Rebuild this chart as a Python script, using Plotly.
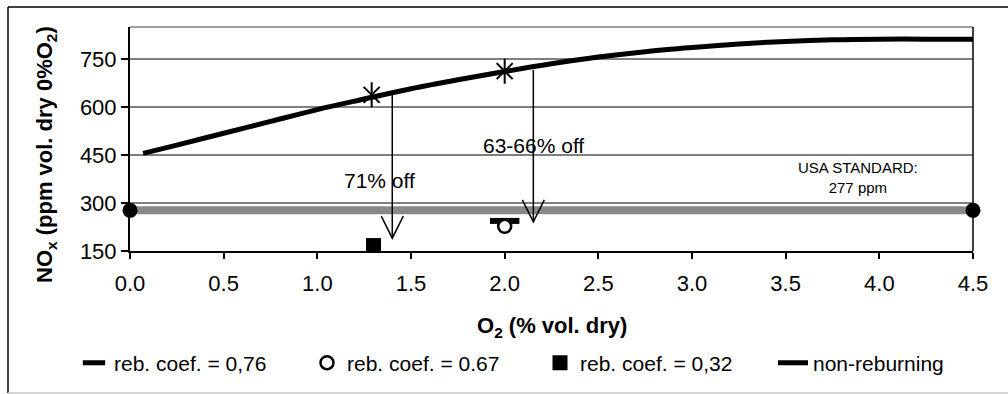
import plotly.graph_objects as go

# ---- data ----
curve_o2 = [0.07, 0.25, 0.5, 0.75, 1.0, 1.25, 1.5, 1.75, 2.0, 2.25, 2.5, 2.75,
            3.0, 3.25, 3.5, 3.75, 4.0, 4.25, 4.5]
curve_nox = [455, 481, 518, 555, 592, 625, 657, 685, 711, 735, 756, 773,
             786, 797, 805, 810, 812, 812, 812]

star_o2 = [1.29, 2.0]
star_nox = [638, 712]

coef076_o2 = [2.0]
coef076_nox = [244]
coef067_o2 = [2.0]
coef067_nox = [227]
coef032_o2 = [1.3]
coef032_nox = [167]

standard_o2 = [0.0, 4.5]
standard_nox = [277, 277]

arrow_o2 = [1.40, 2.153]
arrow_from = [640, 716]
arrow_to = [190, 241]
arrow_labels = ["71% off", "63-66% off"]
label_o2 = [1.332, 2.153]
label_nox = [371, 479]

x_ticks = [0.0, 0.5, 1.0, 1.5, 2.0, 2.5, 3.0, 3.5, 4.0, 4.5]
y_ticks = [150, 300, 450, 600, 750]

# ---- layout geometry ----
W, H = 1008, 394
L, R, T, B = 130, 35, 27, 143
pw, ph = W - L - R, H - T - B
xr = [0, 4.5]
yr = [150, 850]
xu = (xr[1] - xr[0]) / pw   # x units per px
yu = (yr[1] - yr[0]) / ph   # y units per px

def px_x(p):
    return (p - L) / pw

def px_y(p):
    return (H - B - p) / ph

FONT = "Liberation Sans, Arial, sans-serif"

fig = go.Figure()

# USA standard band
fig.add_trace(go.Scatter(
    x=standard_o2, y=standard_nox, mode="lines+markers",
    line=dict(color="#888888", width=8),
    marker=dict(color="black", size=15),
    showlegend=False, cliponaxis=False, hoverinfo="skip"))

# reburning points
fig.add_trace(go.Scatter(
    x=coef076_o2, y=coef076_nox, mode="markers", name="reb. coef. = 0,76",
    marker=dict(symbol="line-ew-open", size=21, color="black",
                line=dict(color="black", width=6))))
fig.add_trace(go.Scatter(
    x=coef067_o2, y=coef067_nox, mode="markers", name="reb. coef. = 0.67",
    marker=dict(symbol="circle", size=13, color="white",
                line=dict(color="black", width=2.5))))
fig.add_trace(go.Scatter(
    x=coef032_o2, y=coef032_nox, mode="markers", name="reb. coef. = 0,32",
    marker=dict(symbol="square", size=15, color="black",
                line=dict(color="black", width=0))))

# non-reburning curve
fig.add_trace(go.Scatter(
    x=curve_o2, y=curve_nox, mode="lines", name="non-reburning",
    line=dict(color="black", width=5, shape="spline")))

# asterisks (X + vertical stroke)
fig.add_trace(go.Scatter(
    x=star_o2, y=star_nox, mode="markers", showlegend=False,
    marker=dict(symbol="x-thin-open", size=16, color="black",
                line=dict(color="black", width=2))))
fig.add_trace(go.Scatter(
    x=star_o2, y=star_nox, mode="markers", showlegend=False,
    marker=dict(symbol="line-ns-open", size=18, color="black",
                line=dict(color="black", width=2))))

shapes = []
# arrows with open V heads
hw = 11 * xu
hl = 22 * yu
for ax, y0, y1 in zip(arrow_o2, arrow_from, arrow_to):
    shapes.append(dict(type="line", xref="x", yref="y", x0=ax, x1=ax, y0=y0, y1=y1,
                       line=dict(color="black", width=1.5)))
    shapes.append(dict(type="path", xref="x", yref="y",
                       path=f"M {ax - hw},{y1 + hl} L {ax},{y1} L {ax + hw},{y1 + hl}",
                       line=dict(color="black", width=1.5)))

# plot-area top (gray) and right (black) borders
shapes.append(dict(type="line", xref="paper", yref="paper", x0=0, x1=1, y0=1, y1=1,
                   line=dict(color="#808080", width=1.5), layer="below"))
shapes.append(dict(type="line", xref="paper", yref="paper", x0=1, x1=1, y0=0, y1=1,
                   line=dict(color="black", width=1.5)))
# chart outer border
shapes.append(dict(type="line", xref="paper", yref="paper",
                   x0=px_x(8), x1=px_x(8), y0=px_y(393), y1=px_y(7),
                   line=dict(color="black", width=1.5)))
shapes.append(dict(type="line", xref="paper", yref="paper",
                   x0=px_x(8), x1=px_x(1010), y0=px_y(7), y1=px_y(7),
                   line=dict(color="black", width=1.5)))
shapes.append(dict(type="line", xref="paper", yref="paper",
                   x0=px_x(8), x1=px_x(1010), y0=px_y(393), y1=px_y(393),
                   line=dict(color="#c8c8c8", width=1.5)))

annotations = []
for t, lx, ly in zip(arrow_labels, label_o2, label_nox):
    annotations.append(dict(x=lx, y=ly, xref="x", yref="y", text=t, showarrow=False,
                            font=dict(family=FONT, size=21, color="black"),
                            xanchor="center", yanchor="middle"))
annotations.append(dict(x=3.886, y=379, xref="x", yref="y",
                        text="USA STANDARD:<br>277 ppm", showarrow=False,
                        font=dict(family=FONT, size=15, color="black"),
                        xanchor="center", yanchor="middle"))
annotations.append(dict(x=px_x(46), y=px_y(155), xref="paper", yref="paper",
                        text="<b>NO<sub>x</sub> (ppm vol. dry 0%O<sub>2</sub>)</b>",
                        textangle=-90, showarrow=False,
                        font=dict(family=FONT, size=22, color="black"),
                        xanchor="center", yanchor="middle"))
annotations.append(dict(x=px_x(552), y=px_y(327), xref="paper", yref="paper",
                        text="<b>O<sub>2</sub> (% vol. dry)</b>", showarrow=False,
                        font=dict(family=FONT, size=22, color="black"),
                        xanchor="center", yanchor="middle"))

fig.update_layout(
    width=W, height=H,
    margin=dict(l=L, r=R, t=T, b=B, autoexpand=False),
    paper_bgcolor="white", plot_bgcolor="white",
    font=dict(family=FONT, size=21, color="black"),
    shapes=shapes, annotations=annotations,
    legend=dict(orientation="h", x=px_x(74), y=px_y(363), xanchor="left", yanchor="middle",
                entrywidth=188, entrywidthmode="pixels",
                font=dict(family=FONT, size=21, color="black"),
                bgcolor="rgba(0,0,0,0)", itemwidth=30),
    xaxis=dict(range=xr, tickvals=x_ticks, ticktext=[f"{v:.1f}" for v in x_ticks],
               showgrid=False, zeroline=False,
               showline=True, linecolor="black", linewidth=2,
               ticks="outside", ticklen=6, tickwidth=1.5, tickcolor="black",
               ticklabelstandoff=6,
               tickfont=dict(family=FONT, size=22, color="black")),
    yaxis=dict(range=yr, tickvals=y_ticks, showgrid=True, gridcolor="#808080", gridwidth=1.5,
               zeroline=False, showline=True, linecolor="black", linewidth=2,
               ticks="outside", ticklen=7, tickwidth=1.5, tickcolor="black",
               tickfont=dict(family=FONT, size=22, color="black")),
)

fig.write_html("out.html")
